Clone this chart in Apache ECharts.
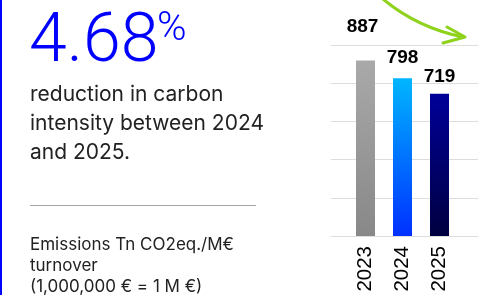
<!DOCTYPE html>
<html>
<head>
<meta charset="utf-8">
<script src="https://cdn.jsdelivr.net/npm/echarts@6/dist/echarts.min.js"></script>
<style>
html,body{margin:0;padding:0;background:#fff;}
#c{width:486px;height:295px;}
</style>
</head>
<body>
<div id="c"></div>
<script>
// ---- data ----
const categories = ['2023', '2024', '2025'];
const values = [887, 798, 719];
const headline = '4.68';
const headlineUnit = '%';
const description = 'reduction in carbon\nintensity between 2024\nand 2025.';
const note = 'Emissions Tn CO2eq./M€\nturnover\n(1,000,000 € = 1 M €)';

// ---- styles ----
const barGradients = [
  ['#a9a9a9', '#888888'],
  ['#00b6ff', '#0030ff'],
  ['#000099', '#000040']
];
const labelDistances = [24, 11, 7.5];
const labelOffsets = [[-3, 0], [0, 0], [0, 0]];

const chart = echarts.init(document.getElementById('c'), null, {renderer: 'canvas'});

const barData = values.map((v, i) => ({
  value: v,
  itemStyle: {
    color: {type: 'linear', x: 0, y: 0, x2: 0, y2: 1,
      colorStops: [{offset: 0, color: barGradients[i][0]}, {offset: 1, color: barGradients[i][1]}]}
  },
  label: {distance: labelDistances[i], offset: labelOffsets[i]}
}));

chart.setOption({
  animation: false,
  grid: [
    {left: 347, right: 28, top: 45, bottom: 59},
    {left: 331, right: 8, top: 45, bottom: 59}
  ],
  xAxis: [
    {
      type: 'category', data: categories, gridIndex: 0,
      axisLine: {show: false}, axisTick: {show: false},
      axisLabel: {rotate: 90, margin: 10, color: '#000', fontSize: 20.5,
        fontFamily: '"Liberation Sans", Arial, sans-serif'}
    },
    {type: 'value', gridIndex: 1, show: false}
  ],
  yAxis: [
    {type: 'value', gridIndex: 0, min: 0, max: 966, show: false, splitLine: {show: false}},
    {type: 'value', gridIndex: 1, min: 0, max: 5, interval: 1,
      axisLabel: {show: false}, axisLine: {show: false}, axisTick: {show: false},
      splitLine: {show: true, lineStyle: {color: '#dddddd', width: 1}}}
  ],
  series: [{
    type: 'bar', xAxisIndex: 0, yAxisIndex: 0,
    data: barData, barWidth: 19,
    label: {show: true, position: 'top', color: '#000', fontSize: 19, fontWeight: 'bold',
      fontFamily: '"Liberation Sans", Arial, sans-serif'}
  }],
  graphic: [
    {type: 'rect', shape: {x: 0, y: 0, width: 2, height: 295}, style: {fill: '#0000ff'}},
    {type: 'text', style: {text: headline, x: 29, y: 43.6, fill: '#0000ff', fontSize: 68, fontWeight: 300,
      fontFamily: 'Roboto, sans-serif', verticalAlign: 'middle', align: 'left'}},
    {type: 'text', style: {text: headlineUnit, x: 157, y: 30, fill: '#0000ff', fontSize: 40, fontWeight: 300,
      fontFamily: 'Roboto, sans-serif', verticalAlign: 'middle', align: 'left'}},
    {type: 'text', style: {text: description, x: 30, y: 80, fill: '#222', fontSize: 21, lineHeight: 29,
      fontFamily: 'Inter, sans-serif', verticalAlign: 'top', align: 'left'}},
    {type: 'line', shape: {x1: 30, y1: 205.5, x2: 256, y2: 205.5}, style: {stroke: '#a6a6a6', lineWidth: 1}},
    {type: 'text', style: {text: note, x: 30, y: 234.5, fill: '#222', fontSize: 17, lineHeight: 21,
      fontFamily: 'Inter, sans-serif', verticalAlign: 'top', align: 'left'}},
    {type: 'bezierCurve', shape: {x1: 383, y1: -1, cpx1: 417, cpy1: 27.5, x2: 463, y2: 37},
      style: {stroke: '#8ed21c', lineWidth: 3, fill: null, lineCap: 'round'}},
    {type: 'polyline', shape: {points: [[447, 27], [465, 37], [443, 43]]},
      style: {stroke: '#8ed21c', lineWidth: 3, fill: null, lineCap: 'round', lineJoin: 'round'}}
  ]
});
</script>
</body>
</html>
